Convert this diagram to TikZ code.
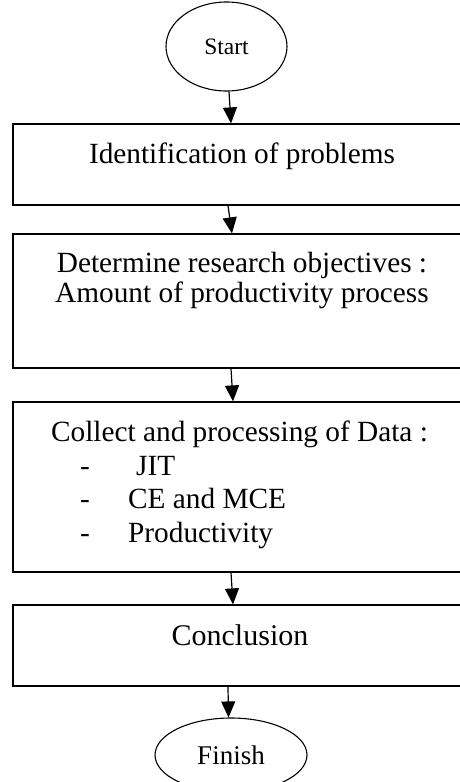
\documentclass[tikz,border=0pt]{standalone}
\usepackage{fontspec}
\setmainfont{Liberation Serif}
\usetikzlibrary{arrows.meta,shapes.geometric}

\begin{document}
\begin{tikzpicture}[x=1pt, y=-1pt,
    box/.style={draw, line width=1.2pt, minimum width=458pt, inner sep=0},
    term/.style={draw, ellipse, line width=1.1pt, inner sep=0},
    arr/.style={-{Triangle[length=16pt,width=14pt]}, line width=1.2pt},
    txt/.style={inner sep=0, font=\fontsize{29.3}{24.5}\selectfont}]
        % Area del foglio
        \useasboundingbox (0,0) rectangle (460,782);
        \clip (0,0) rectangle (460,782);

        % Inizio
        \node[term, minimum width=121pt, minimum height=89pt, font=\fontsize{23.5}{27}\selectfont] (start) at (226.5,46.5) {Start};

        % Blocchi del processo
        \node[box, minimum height=81pt] (b1) at (242,164.5) {};
        \node[txt, anchor=base] (t1) at (242,163) {Identification of problems};

        \node[box, minimum height=134pt] (b2) at (242,301) {};
        \node[txt, anchor=base] (t2a) at (242,272) {Determine research objectives :};
        \node[txt, anchor=base] (t2b) at (242,302.5) {Amount of productivity process};

        \node[box, minimum height=170pt] (b3) at (242,487) {};
        \node[txt, anchor=base] (t3) at (239.5,441) {Collect and processing of Data :};
        \node[txt, anchor=base west] (d1) at (80,475) {-};
        \node[txt, anchor=base west] (i1) at (136,475) {JIT};
        \node[txt, anchor=base west] (d2) at (80,508.5) {-};
        \node[txt, anchor=base west] (i2) at (128,508.5) {CE and MCE};
        \node[txt, anchor=base west] (d3) at (80,542) {-};
        \node[txt, anchor=base west] (i3) at (128,542) {Productivity};

        \node[box, minimum height=81pt] (b4) at (242,645.5) {};
        \node[txt, anchor=base, font=\fontsize{30}{34}\selectfont] (t4) at (240,645) {Conclusion};

        % Fine
        \node[term, minimum width=152pt, minimum height=74pt, font=\fontsize{27}{31}\selectfont] (finish) at (231,755) {Finish};

        % Frecce
        \draw[arr] ([xshift=2.5pt]start.south) -- ([xshift=-11pt]b1.north);
        \draw[arr] ([xshift=-14pt]b1.south) -- ([xshift=-10pt]b2.north);
        \draw[arr] ([xshift=-11pt]b2.south) -- ([xshift=-9pt]b3.north);
        \draw[arr] ([xshift=-11pt]b3.south) -- ([xshift=-9pt]b4.north);
        \draw[arr] ([xshift=-14pt]b4.south) -- ([xshift=-2.5pt]finish.north);
    \end{tikzpicture}
\end{document}
